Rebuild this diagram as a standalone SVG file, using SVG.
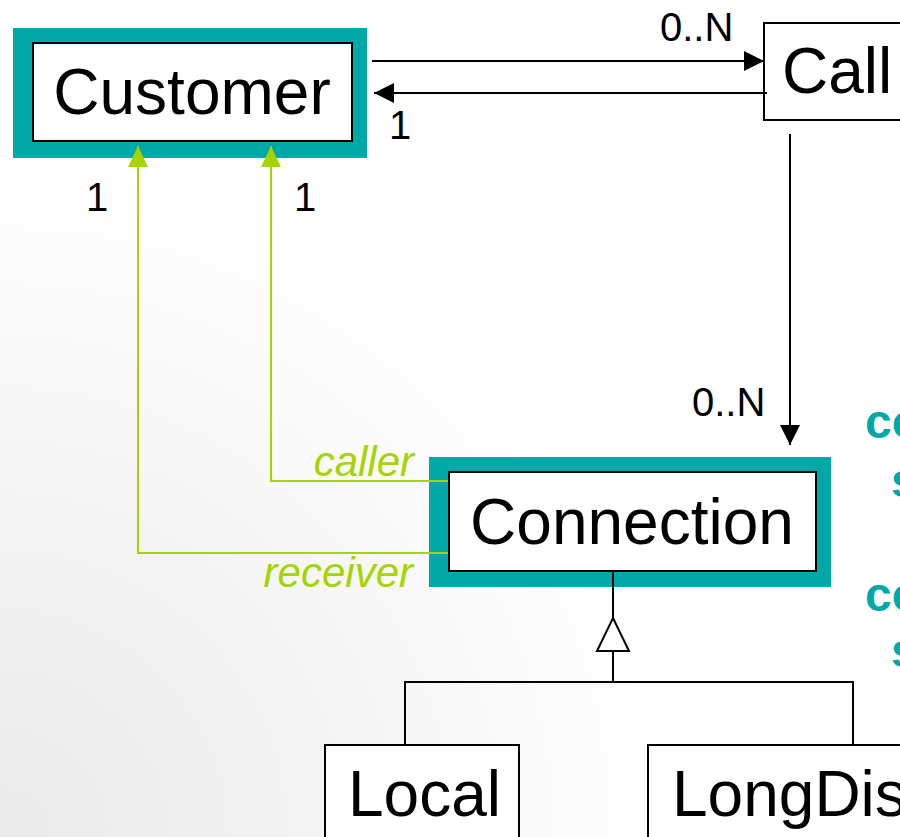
<svg xmlns="http://www.w3.org/2000/svg" width="900" height="837" viewBox="0 0 900 837">
  <defs>
    <radialGradient id="bgShade" cx="0" cy="837" r="680" gradientUnits="userSpaceOnUse">
      <stop offset="0" stop-color="#eaeaea"/>
      <stop offset="0.5" stop-color="#f4f4f4"/>
      <stop offset="0.85" stop-color="#fcfcfc"/>
      <stop offset="1" stop-color="#ffffff"/>
    </radialGradient>
    <marker id="arrowBlack" viewBox="0 0 20 20" refX="20" refY="10" markerWidth="20" markerHeight="20" markerUnits="userSpaceOnUse" orient="auto">
      <path d="M0,0 L20,10 L0,20 Z" fill="#000"/>
    </marker>
    <marker id="arrowGreen" viewBox="0 0 21 20" refX="21" refY="10" markerWidth="21" markerHeight="20" markerUnits="userSpaceOnUse" orient="auto">
      <path d="M0,0 L21,10 L0,20 Z" fill="#a6d400"/>
    </marker>
  </defs>
  <style>
    .frame { fill: #00a8a8; }
    .box { fill: #ffffff; stroke: #000; stroke-width: 2; }
    .name { font-family: "Liberation Sans", Arial, sans-serif; font-size: 64px; fill: #000; }
    .mult { font-family: "Liberation Sans", Arial, sans-serif; font-size: 40px; fill: #000; }
    .role { font-family: "Liberation Sans", Arial, sans-serif; font-size: 42px; font-style: italic; fill: #a6d400; }
    .note { font-family: "Liberation Sans", Arial, sans-serif; font-size: 48px; font-weight: bold; fill: #00a8a8; }
    .line { fill: none; stroke: #000; stroke-width: 2; }
    .assoc { fill: none; stroke: #a6d400; stroke-width: 2; }
  </style>

  <rect x="0" y="0" width="900" height="837" fill="url(#bgShade)"/>

  <g id="customer">
    <rect class="frame" x="13" y="28" width="354" height="130"/>
    <rect class="box" x="33" y="43" width="319" height="98"/>
    <text class="name" x="192" y="114" text-anchor="middle">Customer</text>
  </g>

  <g id="call">
    <rect class="box" x="764" y="23" width="160" height="97"/>
    <text class="name" x="782" y="93">Call</text>
  </g>

  <g id="connection">
    <rect class="frame" x="429" y="457" width="402" height="130"/>
    <rect class="box" x="449" y="472" width="367" height="99"/>
    <text class="name" x="632" y="544" text-anchor="middle">Connection</text>
  </g>

  <g id="local">
    <rect class="box" x="325" y="745" width="194" height="110"/>
    <text class="name" x="348" y="816">Local</text>
  </g>

  <g id="longdis">
    <rect class="box" x="648" y="745" width="280" height="110"/>
    <text class="name" x="672" y="816">LongDis</text>
  </g>

  <!-- connectors, drawn over the node frames -->
  <g id="connectors">
    <!-- Customer -> Call -->
    <line class="line" x1="372" y1="61" x2="764" y2="61" marker-end="url(#arrowBlack)"/>
    <!-- Call -> Customer -->
    <line class="line" x1="767" y1="93" x2="374" y2="93" marker-end="url(#arrowBlack)"/>
    <!-- Call -> Connection -->
    <line class="line" x1="790" y1="134" x2="790" y2="445" marker-end="url(#arrowBlack)"/>
    <!-- caller / receiver roles -->
    <polyline class="assoc" points="448,481 271,481 271,146" marker-end="url(#arrowGreen)"/>
    <polyline class="assoc" points="448,553 138,553 138,146" marker-end="url(#arrowGreen)"/>
    <!-- generalization -->
    <line class="line" x1="613" y1="571" x2="613" y2="618"/>
    <path class="line" d="M613,618 L629,651 L597,651 Z" fill="#fff"/>
    <line class="line" x1="613" y1="651" x2="613" y2="682"/>
    <polyline class="line" points="405,745 405,682 853,682 853,745"/>
  </g>

  <!-- multiplicities and roles -->
  <g id="labels">
    <text class="mult" x="660" y="41">0..N</text>
    <text class="mult" x="389" y="139">1</text>
    <text class="mult" x="86" y="211">1</text>
    <text class="mult" x="294" y="211">1</text>
    <text class="mult" x="692" y="416">0..N</text>
    <text class="role" x="414" y="476" text-anchor="end">caller</text>
    <text class="role" x="413" y="587" text-anchor="end">receiver</text>
  </g>

  <g id="notes">
    <text class="note" x="865" y="438">co</text>
    <text class="note" x="891" y="497">s</text>
    <text class="note" x="865" y="611">co</text>
    <text class="note" x="891" y="667">s</text>
  </g>
</svg>
